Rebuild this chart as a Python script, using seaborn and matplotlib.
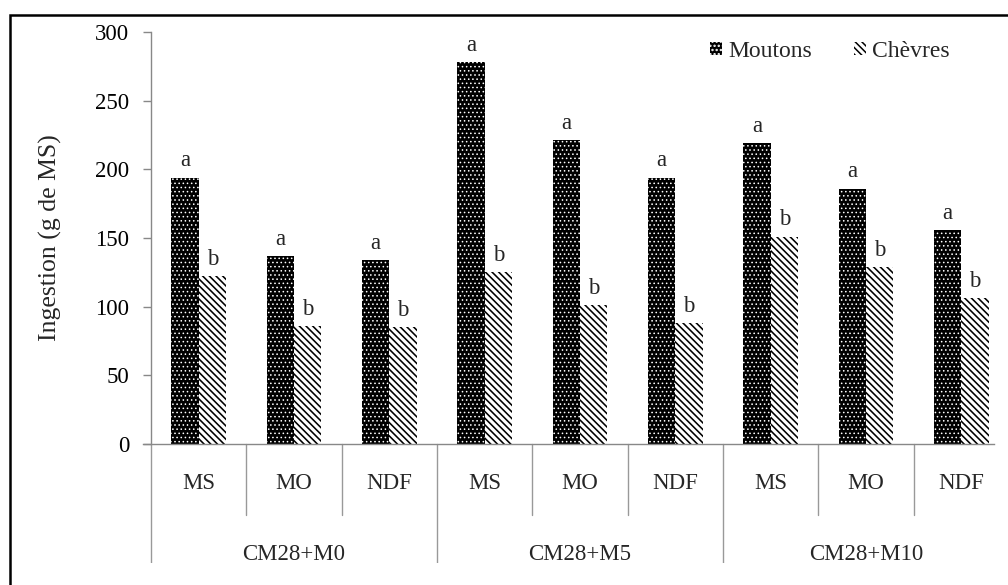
import numpy as np
import pandas as pd
import seaborn as sns
import matplotlib
matplotlib.use("Agg")
import matplotlib.pyplot as plt
from matplotlib.patches import Rectangle
import matplotlib.transforms as mtransforms

# ---- data ----
groups = ["CM28+M0", "CM28+M5", "CM28+M10"]
measures = ["MS", "MO", "NDF"]
species = ["Moutons", "Chèvres"]
moutons = [194, 137, 134, 278, 221, 194, 219, 186, 156]
chevres = [122, 86, 85, 125, 101, 88, 151, 129, 106]
letters_moutons = ["a"] * 9
letters_chevres = ["b"] * 9
yticks = [0, 50, 100, 150, 200, 250, 300]
ylabel = "Ingestion (g de MS)"

sns.set_theme(style="white")
plt.rcParams["font.family"] = ["Liberation Serif", "DejaVu Serif"]
plt.rcParams["hatch.linewidth"] = 1.1

cats = [f"{g}|{m}" for g in groups for m in measures]
df = pd.DataFrame({
    "cat": cats * 2,
    "val": moutons + chevres,
    "sp": [species[0]] * 9 + [species[1]] * 9,
})

fig = plt.figure(figsize=(10.08, 5.85), dpi=100)
ax = fig.add_axes([151 / 1008, 141 / 585, (1009 - 151) / 1008, 412 / 585])

sns.barplot(data=df, x="cat", y="val", hue="sp", hue_order=species, order=cats,
            width=0.57, gap=0, legend=False, ax=ax, saturation=1,
            palette={species[0]: "black", species[1]: "white"})

styles = {species[0]: dict(fc="black", ec="white", hatch="....", hlw=0.6),
          species[1]: dict(fc="white", ec="black", hatch="\\\\\\\\\\", hlw=1.15)}
letters = {species[0]: letters_moutons, species[1]: letters_chevres}
for cont, sp in zip(ax.containers, species):
    for i, p in enumerate(cont.patches):
        p.set_facecolor(styles[sp]["fc"])
        p.set_edgecolor(styles[sp]["ec"])
        p.set_hatch(styles[sp]["hatch"])
        if hasattr(p, "set_hatch_linewidth"):
            p.set_hatch_linewidth(styles[sp]["hlw"])
        p.set_linewidth(0)
        ax.annotate(letters[sp][i], (p.get_x() + p.get_width() / 2, p.get_height()),
                    xytext=(0, 4.5), textcoords="offset points", ha="center", va="bottom",
                    fontsize=16.5)

ax.set_xlim(-0.5, 8.5)
ax.set_ylim(0, 300)
ax.set_yticks(yticks)
ax.set_yticklabels([str(t) for t in yticks], fontsize=16.5)
ax.tick_params(axis="y", length=5.5, width=1, color="#888888", left=True, pad=10, labelcolor="black")
ax.tick_params(axis="x", length=0, labelbottom=False)
ax.set_xlabel("")
ax.set_ylabel(ylabel, fontsize=18.5, labelpad=24)
for s in ["top", "right"]:
    ax.spines[s].set_visible(False)
for s in ["left", "bottom"]:
    ax.spines[s].set_color("#888888")
    ax.spines[s].set_linewidth(1)
ax.spines["bottom"].set_bounds(-0.58, 8.34)

# category axis (two-level) below the plot
trans = mtransforms.blended_transform_factory(ax.transData, ax.transAxes)
n = len(cats)
for k in range(n + 1):
    xb = k - 0.5
    y1 = -0.35 if k % len(measures) == 0 else -0.172
    ax.plot([xb, xb], [0, y1], color="#999999", lw=1, transform=trans, clip_on=False)
for i, c in enumerate(cats):
    ax.text(i, -0.097, c.split("|")[1], transform=trans, ha="center", va="center", fontsize=16.5)
for j, g in enumerate(groups):
    ax.text(j * len(measures) + 1, -0.268, g, transform=trans, ha="center", va="center", fontsize=16.5)

# legend
handles = [ax.containers[0].patches[0], ax.containers[1].patches[0]]
ax.legend(handles, species, loc="center left", bbox_to_anchor=(0.652, 0.953), ncol=2,
          frameon=False, fontsize=17, handlelength=0.5, handleheight=0.5,
          handletextpad=0.25, columnspacing=1.8, borderpad=0, borderaxespad=0)

# cropped bottom and outer frame
fig.add_artist(Rectangle((11.5 / 1008, 0), 1, 22 / 585, transform=fig.transFigure,
                         facecolor="white", edgecolor="none", zorder=10))
fig.add_artist(Rectangle((10 / 1008, -0.2), 1.2, (585 - 14.5) / 585 + 0.2,
                         transform=fig.transFigure, fill=False, edgecolor="black",
                         lw=1.8, zorder=11))

fig.savefig("out.png", dpi=100)
